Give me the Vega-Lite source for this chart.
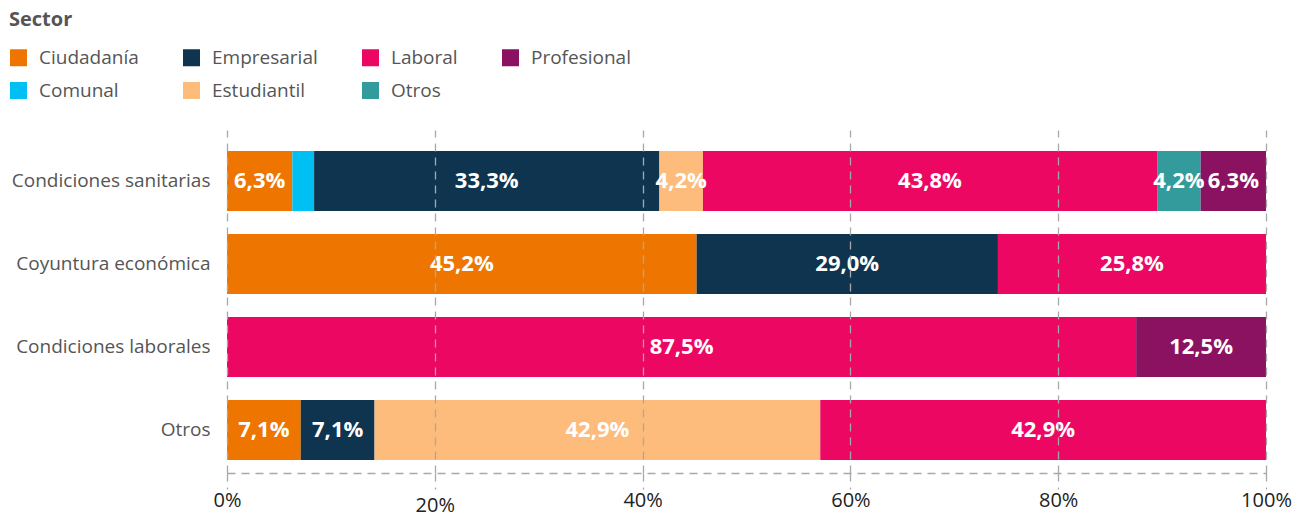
{
  "$schema": "https://vega.github.io/schema/vega-lite/v6.json",
  "width": 1039,
  "height": 343,
  "autosize": {"type": "none"},
  "padding": {"left": 227, "top": 130, "right": 40, "bottom": 43},
  "config": {
    "locale": {"number": {"decimal": ",", "thousands": ".", "grouping": [3], "currency": ["", " €"]}},
    "view": {"stroke": null},
    "font": "Open Sans"
  },
  "data": {
    "values": [
      {"Tema": "Condiciones sanitarias", "Sector": "Ciudadanía", "share": 0.063},
      {"Tema": "Condiciones sanitarias", "Sector": "Comunal", "share": 0.021},
      {"Tema": "Condiciones sanitarias", "Sector": "Empresarial", "share": 0.333},
      {"Tema": "Condiciones sanitarias", "Sector": "Estudiantil", "share": 0.042},
      {"Tema": "Condiciones sanitarias", "Sector": "Laboral", "share": 0.438},
      {"Tema": "Condiciones sanitarias", "Sector": "Otros", "share": 0.042},
      {"Tema": "Condiciones sanitarias", "Sector": "Profesional", "share": 0.063},
      {"Tema": "Coyuntura económica", "Sector": "Ciudadanía", "share": 0.452},
      {"Tema": "Coyuntura económica", "Sector": "Empresarial", "share": 0.290},
      {"Tema": "Coyuntura económica", "Sector": "Laboral", "share": 0.258},
      {"Tema": "Condiciones laborales", "Sector": "Laboral", "share": 0.875},
      {"Tema": "Condiciones laborales", "Sector": "Profesional", "share": 0.125},
      {"Tema": "Otros", "Sector": "Ciudadanía", "share": 0.071},
      {"Tema": "Otros", "Sector": "Empresarial", "share": 0.071},
      {"Tema": "Otros", "Sector": "Estudiantil", "share": 0.429},
      {"Tema": "Otros", "Sector": "Laboral", "share": 0.429}
    ]
  },
  "layer": [
    {
      "mark": {"type": "bar"},
      "encoding": {
        "y": {
          "field": "Tema", "type": "nominal",
          "sort": ["Condiciones sanitarias", "Coyuntura económica", "Condiciones laborales", "Otros"],
          "scale": {"paddingInner": 0.277, "paddingOuter": 0.205, "align": 0.62},
          "axis": {"title": null, "domain": false, "ticks": false, "labelFontSize": 19, "labelColor": "#555", "labelPadding": 17, "labelLimit": 0}
        },
        "x": {
          "field": "share", "type": "quantitative", "stack": "normalize",
          "axis": {
            "title": null, "values": [0, 0.2, 0.4, 0.6, 0.8, 1], "format": ".0%",
            "grid": true, "gridDash": [8, 6], "gridColor": "#a8a8a8", "gridWidth": 1.3,
            "domainDash": [8, 6], "domainColor": "#a8a8a8", "domainWidth": 1.5,
            "ticks": true, "tickDash": [8, 6], "tickColor": "#a8a8a8", "tickSize": 16, "tickWidth": 1.3,
            "labelFontSize": 20, "labelColor": "#222", "labelFlush": false,
            "labelPadding": {"condition": {"test": "datum.value == 0.2", "value": 6}, "value": 1},
            "zindex": 1
          }
        },
        "color": {
          "field": "Sector", "type": "nominal",
          "scale": {
            "domain": ["Ciudadanía", "Empresarial", "Laboral", "Profesional", "Comunal", "Estudiantil", "Otros"],
            "range": ["#EE7600", "#0E344F", "#EC0762", "#8A1260", "#00BFF3", "#FDBB7C", "#339B9B"]
          },
          "legend": {
            "title": "Sector", "orient": "none", "legendX": -218, "legendY": -120,
            "direction": "horizontal", "columns": 4,
            "symbolType": "square", "symbolSize": 289, "symbolStrokeWidth": 0,
            "labelFontSize": 19, "labelColor": "#555", "labelOffset": 11,
            "columnPadding": 43, "rowPadding": 13,
            "titleFontSize": 20, "titleColor": "#555", "titleFontWeight": "bold", "titlePadding": 18, "titleAnchor": "start"
          }
        },
        "order": {"field": "Sector", "sort": "ascending"}
      }
    },
    {
      "mark": {"type": "text", "color": "white", "fontWeight": "bold", "fontSize": 22, "align": "center", "baseline": "middle"},
      "encoding": {
        "y": {"field": "Tema", "type": "nominal", "sort": ["Condiciones sanitarias", "Coyuntura económica", "Condiciones laborales", "Otros"]},
        "x": {"field": "share", "type": "quantitative", "stack": "normalize", "bandPosition": 0.5},
        "detail": {"field": "Sector"},
        "order": {"field": "Sector", "sort": "ascending"},
        "text": {"field": "share", "type": "quantitative", "format": ".1%"},
        "opacity": {"condition": {"test": "datum.share < 0.04", "value": 0}, "value": 1}
      }
    }
  ]
}
